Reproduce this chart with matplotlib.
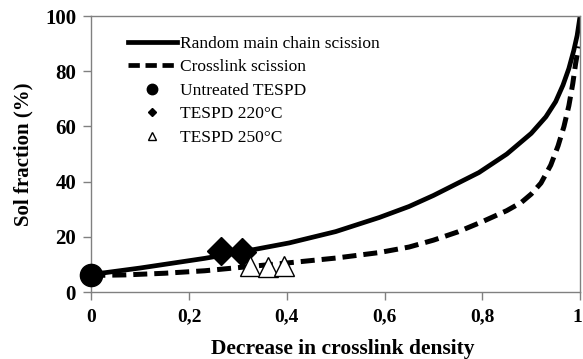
import matplotlib.pyplot as plt
import matplotlib.transforms as mtransforms
from matplotlib.lines import Line2D

plt.rcParams['font.family'] = ['Liberation Serif', 'DejaVu Serif']

# curves
random_x = [0, 0.028, 0.1, 0.232, 0.3, 0.405, 0.5, 0.589, 0.65, 0.7, 0.793,
            0.85, 0.9, 0.93, 0.95, 0.965, 0.977, 0.987, 0.994, 1.0]
random_y = [6.5, 7.0, 8.7, 12.2, 14.3, 17.8, 21.9, 27.0, 31.0, 35.0, 43.3,
            50.0, 57.5, 63.5, 69.0, 75.0, 81.0, 87.5, 93.0, 100.0]

crosslink_x = [0, 0.069, 0.15, 0.232, 0.405, 0.5, 0.589, 0.65, 0.7, 0.75,
               0.8, 0.85, 0.88, 0.9, 0.92, 0.94, 0.955, 0.967, 0.977, 0.985,
               0.991, 0.997]
crosslink_y = [6.0, 6.2, 6.8, 7.7, 10.6, 12.3, 14.3, 16.3, 18.8, 21.8,
               25.5, 29.5, 32.5, 35.5, 39.5, 46.0, 53.0, 60.0, 67.5, 75.5,
               83.0, 89.0]

# samples
untreated_x = [0]
untreated_y = [6.3]
t220_x = [0.266, 0.309]
t220_y = [14.8, 14.4]
t250_x = [0.324, 0.361, 0.395]
t250_y = [9.3, 9.1, 9.6]

xticks = [0, 0.2, 0.4, 0.6, 0.8, 1.0]
xticklabels = ['0', '0,2', '0,4', '0,6', '0,8', '1']
yticks = [0, 20, 40, 60, 80, 100]

fig = plt.figure(figsize=(5.83, 3.59), dpi=100)
ax = fig.add_axes([0.1566, 0.1866, 0.8384, 0.7684])

ax.plot(random_x, random_y, color='black', lw=3.4, solid_capstyle='butt', zorder=2)
ax.plot(crosslink_x, crosslink_y, color='black', lw=3.6, dashes=(2.8, 1.4), zorder=2)
ax.plot(untreated_x, untreated_y, 'o', color='black', ms=16, zorder=4, clip_on=False)
ax.plot(t220_x, t220_y, 'D', color='black', ms=14, zorder=3)
ax.plot(t250_x, t250_y, '^', mfc='white', mec='black', mew=1.0, ms=15, zorder=3)

ax.set_xlim(0, 1)
ax.set_ylim(0, 100)
ax.set_xticks(xticks)
ax.set_xticklabels(xticklabels)
ax.set_yticks(yticks)
for s in ax.spines.values():
    s.set_color('#808080')
    s.set_linewidth(1.0)
ax.tick_params(direction='out', length=6, width=1, color='#808080')
ax.tick_params(axis='x', labelsize=14, pad=6)
ax.tick_params(axis='y', labelsize=15, pad=5)
for lab in ax.get_xticklabels() + ax.get_yticklabels():
    lab.set_fontweight('bold')
# last x label sits on the figure edge, nudge it in a little
last = ax.get_xticklabels()[-1]
last.set_transform(last.get_transform() +
                   mtransforms.ScaledTranslation(-3 / 100, 0, fig.dpi_scale_trans))

ax.set_xlabel('Decrease in crosslink density', fontsize=15.5, fontweight='bold', labelpad=9)
ax.xaxis.set_label_coords(0.514, -0.17)
ax.set_ylabel('Sol fraction (%)', fontsize=15, fontweight='bold', labelpad=8)

handles = [
    Line2D([], [], color='black', lw=3.4),
    Line2D([], [], color='black', lw=3.4, dashes=(2.4, 1.2)),
    Line2D([], [], ls='none', marker='o', color='black', ms=7.5),
    Line2D([], [], ls='none', marker='D', color='black', ms=4.5),
    Line2D([], [], ls='none', marker='^', mfc='white', mec='black', mew=1.0, ms=6),
]
labels = ['Random main chain scission', 'Crosslink scission', 'Untreated TESPD',
          'TESPD 220°C', 'TESPD 250°C']
ax.legend(handles, labels, loc='upper left', bbox_to_anchor=(0.075, 0.93),
          frameon=False, fontsize=12.5, handlelength=2.8, handletextpad=0.17,
          labelspacing=0.43, borderpad=0, borderaxespad=0)

fig.savefig('out.png', dpi=100)
